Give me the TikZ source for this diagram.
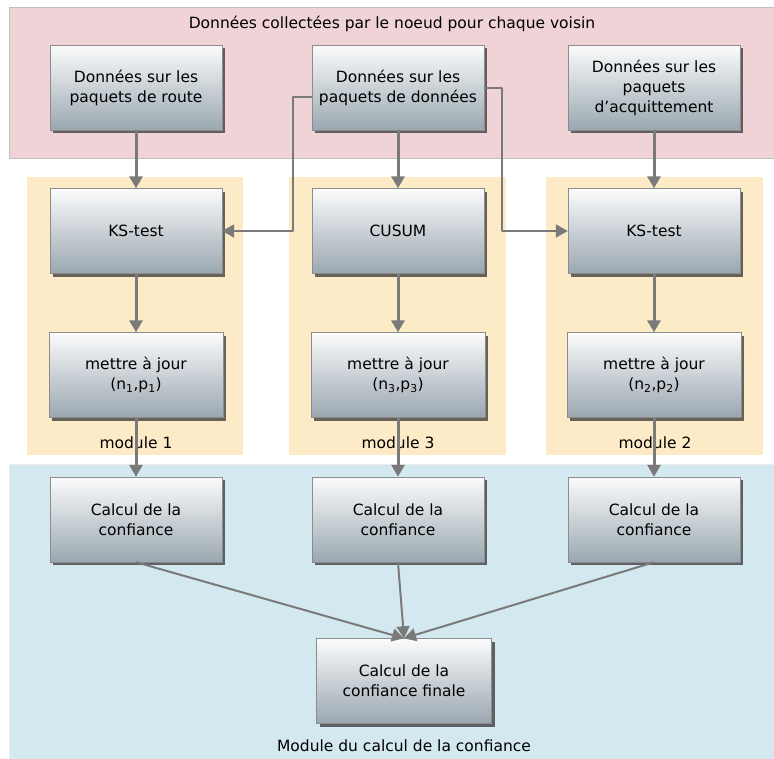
\documentclass[tikz,border=0pt]{standalone}
\usepackage{fontspec}
\setmainfont{DejaVu Sans}
\usetikzlibrary{shadows,arrows.meta}
\definecolor{zonerose}{HTML}{EFD3D6}
\definecolor{zonejaune}{HTML}{FCEBC6}
\definecolor{zonebleu}{HTML}{D4E9EF}
\definecolor{boitebas}{HTML}{9AA7B0}
\definecolor{trait}{HTML}{7A7A7A}
\begin{document}
\begin{tikzpicture}[x=1pt,y=-1pt,line join=round,
  font=\fontsize{15.5}{20}\selectfont,
  boite/.style={draw=gray!90,top color=white!96!boitebas,bottom color=boitebas,
    minimum width=172pt,minimum height=85pt,inner sep=2pt,align=center,
    drop shadow={shadow xshift=3pt,shadow yshift=-3pt,fill=black!75,opacity=.8}},
  fleche/.style={draw=trait,line width=3pt,-{Triangle[length=12pt,width=13pt]}}]
  \useasboundingbox (0,0) rectangle (774,758);
  % zones
  \fill[zonerose,draw=gray!50] (9,7) rectangle (780,158);
  \fill[zonejaune] (27,177) rectangle (243,455);
  \fill[zonejaune] (289,177) rectangle (506,455);
  \fill[zonejaune] (546,177) rectangle (763,455);
  \fill[zonebleu,draw=white!85!gray] (9,464) rectangle (780,770);
  \node (tRose) at (392,24) {Données collectées par le noeud pour chaque voisin};
  \node (tModA) at (136,443) {module 1};
  \node (tModC) at (398,443) {module 3};
  \node (tModB) at (655,443) {module 2};
  \node (tBleu) at (404,746) {Module du calcul de la confiance};
  % sources
  \node[boite] (srcRoute) at (136,87.5) {Données sur les\\paquets de route};
  \node[boite] (srcData) at (398,87.5) {Données sur les\\paquets de données};
  \node[boite] (srcAck) at (654,87.5) {Données sur les\\paquets\\d'acquittement};
  % modules
  \node[boite] (ksA) at (136,231) {KS-test};
  \node[boite] (cusum) at (398,231) {CUSUM};
  \node[boite] (ksB) at (654,231) {KS-test};
  \node[boite,minimum width=174pt] (majA) at (136,375) {mettre à jour\\(n\textsubscript{1},p\textsubscript{1})};
  \node[boite,minimum width=174pt] (majC) at (398,375) {mettre à jour\\(n\textsubscript{3},p\textsubscript{3})};
  \node[boite,minimum width=174pt] (majB) at (654,375) {mettre à jour\\(n\textsubscript{2},p\textsubscript{2})};
  % confiance
  \node[boite] (calA) at (136,519.5) {Calcul de la\\confiance};
  \node[boite] (calC) at (398,519.5) {Calcul de la\\confiance};
  \node[boite] (calB) at (654,519.5) {Calcul de la\\confiance};
  \node[boite,minimum width=175pt] (calFin) at (404,681) {Calcul de la\\confiance finale};
  % liens
  \draw[fleche] (srcRoute) -- (ksA);
  \draw[fleche] (srcData) -- (cusum);
  \draw[fleche] (srcAck) -- (ksB);
  \draw[fleche,line width=2pt] ([yshift=-9pt]srcData.west) -- ++(-19,0) |- (ksA.east);
  \draw[fleche,line width=2pt] ([yshift=0pt]srcData.east) -- ++(18,0) |- (ksB.west);
  \draw[fleche] (ksA) -- (majA);
  \draw[fleche] (cusum) -- (majC);
  \draw[fleche] (ksB) -- (majB);
  \draw[fleche] (majA.south) -- (calA.north);
  \draw[fleche] (majC.south) -- (calC.north);
  \draw[fleche] (majB.south) -- (calB.north);
  \draw[fleche,line width=2pt] (calA.south) -- (calFin.north);
  \draw[fleche,line width=2pt] (calC.south) -- (calFin.north);
  \draw[fleche,line width=2pt] (calB.south) -- (calFin.north);
\end{tikzpicture}
\end{document}
